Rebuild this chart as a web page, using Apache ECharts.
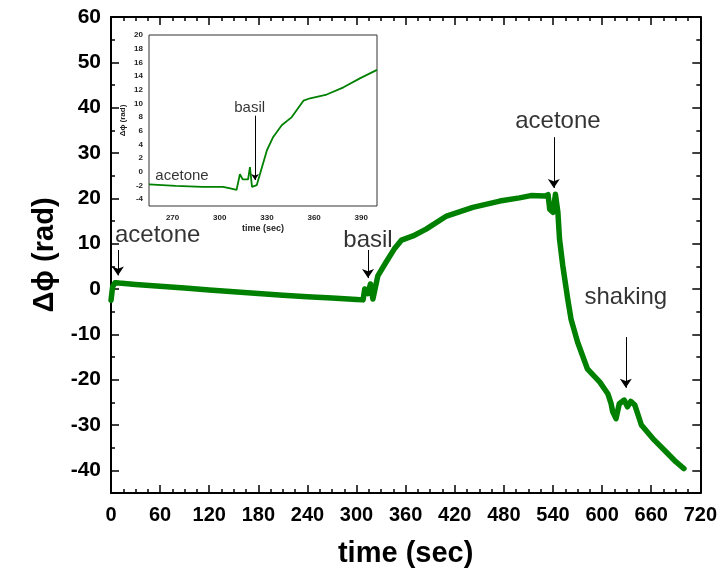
<!DOCTYPE html>
<html>
<head>
<meta charset="utf-8">
<script src="https://cdn.jsdelivr.net/npm/echarts@6/dist/echarts.min.js"></script>
<style>
  html, body { margin: 0; padding: 0; background: #fff; }
  #chart { width: 720px; height: 576px; }
</style>
</head>
<body>
<div id="chart"></div>
<script>
// main trace
const mainTime = [0, 2, 5, 10, 30, 60, 90, 120, 150, 180, 210, 240, 270, 300, 308,
  310, 314, 317, 320, 326, 336, 346, 355, 369, 385, 410, 442, 475, 499, 513,
  530, 534, 536, 540, 543, 546, 548, 552, 558, 562, 570, 582, 597, 607, 611,
  613, 617, 621, 627, 631, 635, 640, 648, 662, 678, 690, 700];
const mainPhase = [-2.5, 0.5, 1.4, 1.3, 1.0, 0.6, 0.2, -0.2, -0.6, -1.0, -1.4, -1.7, -2.0, -2.3, -2.4,
  0.0, -1.0, 1.1, -2.2, 2.9, 5.9, 8.8, 10.8, 11.7, 13.2, 16.1, 18.0, 19.4, 20.1, 20.6,
  20.5, 20.8, 17.6, 16.9, 20.9, 16.9, 11.0, 5.1, -2.2, -6.6, -11.7, -17.6, -20.5, -23.1, -25.3,
  -27.1, -28.6, -25.3, -24.5, -26.0, -24.8, -25.6, -30.0, -33.0, -35.9, -38.1, -39.6];

// inset trace (zoom on 255-400 s)
const insetTime = [255, 272, 289, 302, 306, 310.7, 312.8, 314.6, 318, 319.2, 320.5, 323.5,
  330, 334, 339.4, 345.8, 353.2, 357.5, 368, 378.7, 389.4, 400];
const insetPhase = [-1.85, -2.05, -2.2, -2.2, -2.4, -2.65, -0.35, -1.1, -1.1, 0.7, -2.2, -1.95,
  3.15, 5.1, 6.8, 8.0, 10.4, 10.75, 11.3, 12.35, 13.7, 14.9];

const yTicks = [-40, -30, -20, -10, 0, 10, 20, 30, 40, 50, 60];

// annotations: [t, y, text]
const mainNotes = [[57, 11.8, 'acetone'], [314, 10.8, 'basil'], [546, 37, 'acetone'], [629, -1.8, 'shaking']];
const mainArrows = [[[8.5, 8.6], [8.5, 3.0]], [[314, 8.6], [314, 2.4]], [[541, 33.5], [541, 22.3]], [[629, -10.6], [629, -21.8]]];
const insetNotes = [[276, -0.6, 'acetone'], [319, 9.4, 'basil']];
const insetArrows = [[[322.4, 8.2], [322.4, -1.2]]];

const green = '#008000';
const font = 'Liberation Sans, Arial, sans-serif';

const chart = echarts.init(document.getElementById('chart'), null, { renderer: 'canvas' });

const frame = { show: true, onZero: false, lineStyle: { color: '#000', width: 2 } };
const longTick = { show: true, inside: true, length: 8, lineStyle: { color: '#000', width: 1.5 } };
const shortTick = { show: true, inside: true, length: 4, lineStyle: { color: '#000', width: 1.5 } };
const noLine = { show: false, onZero: false };

const arrowLine = (arrows, xi) => ({
  type: 'line', xAxisIndex: xi, yAxisIndex: xi === 0 ? 0 : 4, data: [], silent: true,
  markLine: {
    silent: true, animation: false,
    symbol: ['none', 'arrow'], symbolSize: xi === 0 ? 9 : 6,
    lineStyle: { color: '#000', width: 1, type: 'solid' },
    label: { show: false },
    data: arrows.map(a => [{ coord: a[0] }, { coord: a[1] }])
  }
});

const noteSeries = (notes, xi, size) => ({
  type: 'scatter', xAxisIndex: xi, yAxisIndex: xi === 0 ? 0 : 4,
  symbolSize: 0, silent: true, z: 5,
  data: notes,
  label: {
    show: true, position: 'inside', formatter: p => p.value[2],
    color: '#000', textBorderWidth: 0, fontFamily: font, fontSize: size
  }
});

chart.setOption({
  animation: false,
  backgroundColor: '#fff',
  grid: [
    { left: 111, top: 17, right: 19, bottom: 83 },
    { left: 149, top: 35, width: 228, height: 171, show: true, backgroundColor: '#fff', borderColor: '#333', borderWidth: 1, z: 3 }
  ],
  xAxis: [
    {
      gridIndex: 0, type: 'value', position: 'bottom', min: 0, max: 720, interval: 60,
      axisLine: frame, axisTick: longTick,
      minorTick: { show: true, splitNumber: 4, length: 4, lineStyle: { color: '#000', width: 1.5 } },
      splitLine: { show: false },
      axisLabel: { margin: 12, color: '#000', fontFamily: font, fontSize: 20, fontWeight: 'bold' },
      name: 'time (sec)', nameLocation: 'middle', nameGap: 46,
      nameTextStyle: { color: '#000', fontFamily: font, fontSize: 29, fontWeight: 'bold' }
    },
    {
      gridIndex: 0, type: 'value', position: 'top', min: 0, max: 720, interval: 60,
      axisLine: frame, axisTick: longTick,
      minorTick: { show: true, splitNumber: 4, length: 4, lineStyle: { color: '#000', width: 1.5 } },
      splitLine: { show: false }, axisLabel: { show: false }
    },
    {
      gridIndex: 1, type: 'value', position: 'bottom', min: 255, max: 400, interval: 15,
      axisLine: noLine, axisTick: { show: false }, splitLine: { show: false },
      axisLabel: {
        margin: 8, color: '#222', fontFamily: font, fontSize: 8, fontWeight: 'bold',
        formatter: v => (v % 30 === 0 ? v : '')
      },
      name: 'time (sec)', nameLocation: 'middle', nameGap: 18,
      nameTextStyle: { color: '#222', fontFamily: font, fontSize: 9, fontWeight: 'bold' }
    }
  ],
  yAxis: [
    {
      gridIndex: 0, type: 'value', position: 'left', min: -45, max: 60,
      axisLine: frame,
      axisTick: Object.assign({ customValues: yTicks }, longTick),
      splitLine: { show: false },
      axisLabel: { customValues: yTicks, margin: 10, color: '#000', fontFamily: font, fontSize: 21, fontWeight: 'bold' },
      name: 'Δϕ (rad)', nameLocation: 'middle', nameGap: 50,
      nameTextStyle: { color: '#000', fontFamily: font, fontSize: 29, fontWeight: 'bold' }
    },
    {
      gridIndex: 0, type: 'value', position: 'left', min: -45, max: 60, interval: 5,
      axisLine: noLine, axisTick: shortTick, splitLine: { show: false }, axisLabel: { show: false }
    },
    {
      gridIndex: 0, type: 'value', position: 'right', min: -45, max: 60,
      axisLine: frame,
      axisTick: Object.assign({ customValues: yTicks }, longTick),
      splitLine: { show: false }, axisLabel: { show: false }
    },
    {
      gridIndex: 0, type: 'value', position: 'right', min: -45, max: 60, interval: 5,
      axisLine: noLine, axisTick: shortTick, splitLine: { show: false }, axisLabel: { show: false }
    },
    {
      gridIndex: 1, type: 'value', position: 'left', min: -5, max: 20, interval: 1,
      axisLine: noLine, axisTick: { show: false }, splitLine: { show: false },
      axisLabel: {
        margin: 6, color: '#222', fontFamily: font, fontSize: 8, fontWeight: 'bold',
        formatter: v => (v % 2 === 0 ? v : '')
      },
      name: 'Δϕ (rad)', nameLocation: 'middle', nameGap: 22,
      nameTextStyle: { color: '#222', fontFamily: font, fontSize: 8, fontWeight: 'bold' }
    }
  ],
  series: [
    {
      type: 'line', xAxisIndex: 0, yAxisIndex: 0, showSymbol: false, symbol: 'none',
      lineStyle: { color: green, width: 5.5, join: 'round', cap: 'round' },
      data: mainTime.map((t, i) => [t, mainPhase[i]])
    },
    {
      type: 'line', xAxisIndex: 2, yAxisIndex: 4, showSymbol: false, symbol: 'none', z: 4,
      lineStyle: { color: green, width: 1.8 },
      data: insetTime.map((t, i) => [t, insetPhase[i]])
    },
    arrowLine(mainArrows, 0),
    arrowLine(insetArrows, 2),
    noteSeries(mainNotes, 0, 24),
    noteSeries(insetNotes, 2, 15)
  ]
});
</script>
</body>
</html>
